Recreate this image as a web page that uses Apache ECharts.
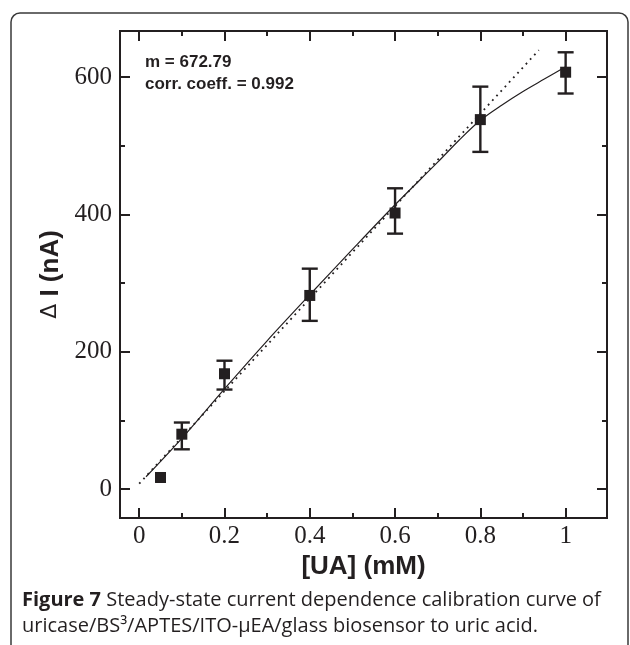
<!DOCTYPE html>
<html>
<head>
<meta charset="utf-8">
<script src="https://cdn.jsdelivr.net/npm/echarts@6/dist/echarts.min.js"></script>
<style>
html,body{margin:0;padding:0;background:#fff;}
#chart{width:630px;height:645px;}
</style>
</head>
<body>
<div id="chart"></div>
<script>
// ---- data ----
const concUA = [0.05, 0.1, 0.2, 0.4, 0.6, 0.8, 1.0];
const deltaI = [17, 80, 168, 282, 402, 538, 607];
const errLow = [null, 58, 145, 245, 372, 491, 576];
const errHigh = [null, 97, 187, 321, 438, 586, 636];

const fitX = [0, 0.937];
const fitY = [8, 639];

const curveX = [0.016, 0.1, 0.2, 0.3, 0.4, 0.5, 0.6, 0.7, 0.75, 0.8, 0.85, 0.9, 0.95, 1.0];
const curveY = [18, 74, 146, 216, 283, 349, 414, 476, 508, 537, 559, 579, 597, 615];

const xMajor = [0, 0.2, 0.4, 0.6, 0.8, 1];
const xMinor = [0.1, 0.3, 0.5, 0.7, 0.9];
const yMajor = [0, 200, 400, 600];
const yMinor = [100, 300, 500];

const annotationLines = ['m = 672.79', 'corr. coeff. = 0.992'];
const xTitle = '[UA] (mM)';
const yTitleSymbol = '\u0394';
const yTitleRest = ' I (nA)';
const captionBold = 'Figure 7';
const captionRest1 = ' Steady-state current dependence calibration curve of';
const captionLine2 = 'uricase/BS\u00b3/APTES/ITO-\u00b5EA/glass biosensor to uric acid.';

// ---- chart ----
const INK = '#231f20';
const X_MIN = -0.045, X_MAX = 1.097;
const Y_MIN = -42, Y_MAX = 667;

function xAx(position, custom, len, labels, extra) {
  return Object.assign({
    type: 'value', min: X_MIN, max: X_MAX, position: position,
    axisLine: {show: true, onZero: false, lineStyle: {color: INK, width: 2}},
    axisTick: {show: true, inside: true, length: len, customValues: custom, lineStyle: {color: INK, width: 2}},
    axisLabel: labels ? {show: true, customValues: custom, fontFamily: 'Liberation Serif', fontSize: 25, color: INK, margin: 6} : {show: false},
    splitLine: {show: false}
  }, extra || {});
}
function yAx(position, custom, len, labels, extra) {
  return Object.assign({
    type: 'value', min: Y_MIN, max: Y_MAX, position: position,
    axisLine: {show: true, onZero: false, lineStyle: {color: INK, width: 2}},
    axisTick: {show: true, inside: true, length: len, customValues: custom, lineStyle: {color: INK, width: 2}},
    axisLabel: labels ? {show: true, customValues: custom, fontFamily: 'Liberation Serif', fontSize: 25, color: INK, margin: 8} : {show: false},
    splitLine: {show: false}
  }, extra || {});
}

const scatterData = concUA.map((x, i) => [x, deltaI[i]]);
const errData = [];
concUA.forEach((x, i) => { if (errLow[i] != null) errData.push([x, errLow[i], errHigh[i]]); });

const chart = echarts.init(document.getElementById('chart'), null, {renderer: 'canvas'});
chart.setOption({
  animation: false,
  backgroundColor: '#fff',
  grid: {left: 120, right: 23, top: 31, bottom: 127},
  xAxis: [
    xAx('bottom', xMajor, 10, true, {
      name: xTitle, nameLocation: 'middle', nameGap: 33,
      nameTextStyle: {fontFamily: 'Liberation Sans', fontWeight: 'bold', fontSize: 26, color: INK}
    }),
    xAx('top', xMajor, 10, false),
    xAx('bottom', xMinor, 5, false),
    xAx('top', xMinor, 5, false)
  ],
  yAxis: [
    yAx('left', yMajor, 10, true, {
      name: '{d|' + yTitleSymbol + '}' + yTitleRest, nameLocation: 'middle', nameGap: 54,
      nameTextStyle: {
        fontFamily: 'Liberation Sans', fontWeight: 'bold', fontSize: 26, color: INK,
        rich: {d: {fontFamily: 'DejaVu Sans', fontWeight: 'normal', fontSize: 22, color: INK}}
      }
    }),
    yAx('right', yMajor, 10, false),
    yAx('left', yMinor, 5, false),
    yAx('right', yMinor, 5, false)
  ],
  series: [
    {
      type: 'line', data: fitX.map((x, i) => [x, fitY[i]]),
      showSymbol: false, lineStyle: {color: INK, width: 1.8, type: [1.8, 4.4]}, z: 2
    },
    {
      type: 'line', data: curveX.map((x, i) => [x, curveY[i]]),
      showSymbol: false, smooth: 0.3, lineStyle: {color: INK, width: 1.2}, z: 3
    },
    {
      type: 'custom', data: errData, z: 4,
      renderItem: function (params, api) {
        const x = api.value(0);
        const lo = api.coord([x, api.value(1)]);
        const hi = api.coord([x, api.value(2)]);
        const w = 8;
        const st = {stroke: INK, lineWidth: 2.4};
        return {
          type: 'group',
          children: [
            {type: 'line', shape: {x1: lo[0], y1: lo[1], x2: hi[0], y2: hi[1]}, style: st},
            {type: 'line', shape: {x1: lo[0] - w, y1: lo[1], x2: lo[0] + w, y2: lo[1]}, style: st},
            {type: 'line', shape: {x1: hi[0] - w, y1: hi[1], x2: hi[0] + w, y2: hi[1]}, style: st}
          ]
        };
      }
    },
    {
      type: 'scatter', data: scatterData, symbol: 'rect', symbolSize: 11,
      itemStyle: {color: INK, opacity: 1}, z: 5
    }
  ],
  graphic: [
    {
      type: 'rect', z: -1, silent: true,
      shape: {x: 11, y: 13, width: 617, height: 700, r: 9},
      style: {fill: null, stroke: '#3a3a3a', lineWidth: 1.5}
    },
    {
      type: 'text', left: 145, top: 51, z: 10,
      style: {
        text: annotationLines.join('\n'),
        font: 'bold 17px "Liberation Sans"', fill: INK, lineHeight: 22
      }
    },
    {
      type: 'text', left: 22, top: 590, z: 10,
      style: {
        text: '{b|' + captionBold + '}{r|' + captionRest1 + '}\n{r|' + captionLine2 + '}',
        rich: {
          b: {fontFamily: 'Open Sans', fontWeight: 'bold', fontSize: 20, fill: INK, lineHeight: 26},
          r: {fontFamily: 'Open Sans', fontSize: 20, fill: INK, lineHeight: 26}
        }
      }
    }
  ]
});
</script>
</body>
</html>
